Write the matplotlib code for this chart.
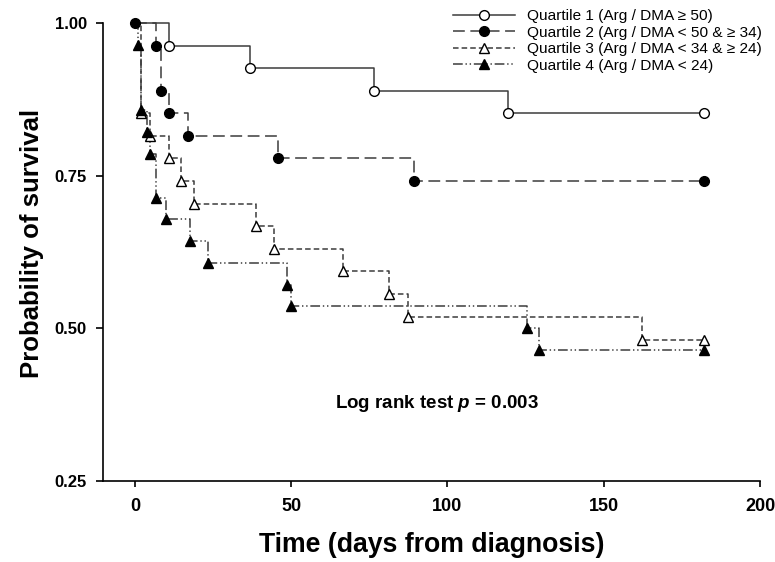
import matplotlib
matplotlib.use("Agg")
import matplotlib.pyplot as plt
from matplotlib.lines import Line2D

plt.rcParams['font.family'] = ['Liberation Sans', 'DejaVu Sans']
plt.rcParams['mathtext.fontset'] = 'custom'
plt.rcParams['mathtext.it'] = 'Liberation Sans:italic:bold'
plt.rcParams['mathtext.rm'] = 'Liberation Sans:bold'
plt.rcParams['lines.scale_dashes'] = False

# ---------------- data ----------------
labels = ["Quartile 1 (Arg / DMA \u2265 50)",
          "Quartile 2 (Arg / DMA < 50 & \u2265 34)",
          "Quartile 3 (Arg / DMA < 34 & \u2265 24)",
          "Quartile 4 (Arg / DMA < 24)"]

end_day = 182

q1_days = [11.0, 36.8, 76.6, 119.5]
q1_surv = [0.963, 0.926, 0.889, 0.852]

q2_days = [6.7, 8.5, 10.9, 16.9, 45.7, 89.4]
q2_surv = [0.963, 0.889, 0.852, 0.815, 0.778, 0.741]

q3_days = [1.8, 4.8, 11.0, 14.7, 18.9, 38.6, 44.6, 66.7, 81.4, 87.5, 162.1]
q3_surv = [0.852, 0.815, 0.778, 0.741, 0.704, 0.667, 0.630, 0.593, 0.556, 0.519, 0.481]

q4_days = [1.1, 1.8, 3.9, 4.8, 6.7, 9.8, 17.6, 23.5, 48.7, 49.8, 125.3, 129.4]
q4_surv = [0.964, 0.857, 0.821, 0.786, 0.714, 0.679, 0.643, 0.607, 0.571, 0.536, 0.500, 0.464]

x_ticks = [0, 50, 100, 150, 200]
y_ticks = [0.25, 0.50, 0.75, 1.00]
y_ticklabels = ["0.25", "0.50", "0.75", "1.00"]

# ---------------- figure ----------------
W, H = 775, 562
fig = plt.figure(figsize=(W / 100, H / 100), dpi=100)
ax = fig.add_axes([102.7 / W, 1 - 480.7 / H, (760 - 102.7) / W, (480.7 - 23) / H])

line_col = '#3c3c3c'
styles = [
    dict(ls='-', marker='o', mfc='white', ms=7.0),
    dict(ls=(0, (8.5, 4.0)), marker='o', mfc='black', ms=7.0),
    dict(ls=(0, (4.0, 2.2)), marker='^', mfc='white', ms=7.5),
    dict(ls=(0, (7.0, 2.0, 1.0, 2.0, 1.0, 2.0)), marker='^', mfc='black', ms=7.5),
]
series = [(q1_days, q1_surv), (q2_days, q2_surv), (q3_days, q3_surv), (q4_days, q4_surv)]

handles = []
for i, ((d, s), st) in enumerate(zip(series, styles)):
    xs = [0] + d + [end_day]
    ys = [1.0] + s + [s[-1]]
    ax.step(xs, ys, where='post', color=line_col, lw=1.1, ls=st['ls'],
            clip_on=False, zorder=2)
    mx = d + [end_day]
    my = s + [s[-1]]
    if i == 1:
        mx = [0] + mx
        my = [1.0] + my
    ax.plot(mx, my, ls='none', marker=st['marker'], ms=st['ms'], mfc=st['mfc'],
            mec='black', mew=1.0, clip_on=False, zorder=3 + i)
    handles.append(Line2D([], [], color=line_col, lw=1.1, ls=st['ls'],
                          marker=st['marker'], ms=st['ms'], mfc=st['mfc'],
                          mec='black', mew=1.0))

ax.set_xlim(-10.3, 200)
ax.set_ylim(0.25, 1.00)
ax.set_xticks(x_ticks)
ax.set_yticks(y_ticks)
ax.set_yticklabels(y_ticklabels)

for sp in ['top', 'right']:
    ax.spines[sp].set_visible(False)
for sp in ['left', 'bottom']:
    ax.spines[sp].set_linewidth(1.2)
    ax.spines[sp].set_color('black')

ax.tick_params(axis='y', direction='out', length=5, width=1.2, pad=6.5, labelsize=12)
ax.tick_params(axis='x', direction='out', length=4.5, width=1.2, pad=8, labelsize=13)
for t in ax.get_yticklabels():
    t.set_fontweight('bold')
for t in ax.get_xticklabels():
    t.set_fontweight('bold')

ax.set_xlabel("Time (days from diagnosis)", fontsize=19.2, fontweight='bold')
ax.xaxis.set_label_coords(0.5, -0.112)
ax.set_ylabel("Probability of survival", fontsize=18.5, fontweight='bold')
ax.yaxis.set_label_coords(-0.09, 0.519)

fig.text(437 / W, 1 - 403 / H, r"Log rank test $\mathit{p}$ = 0.003",
         fontsize=13.5, fontweight='bold', ha='center', va='center')

fig.legend(handles, labels, loc='upper left',
           bbox_to_anchor=(453 / W, 1 - 9 / H), frameon=False,
           borderpad=0, borderaxespad=0, handlelength=4.0, handletextpad=0.78,
           labelspacing=0.17, fontsize=11.1, numpoints=1)

fig.savefig("out.png", dpi=100)
